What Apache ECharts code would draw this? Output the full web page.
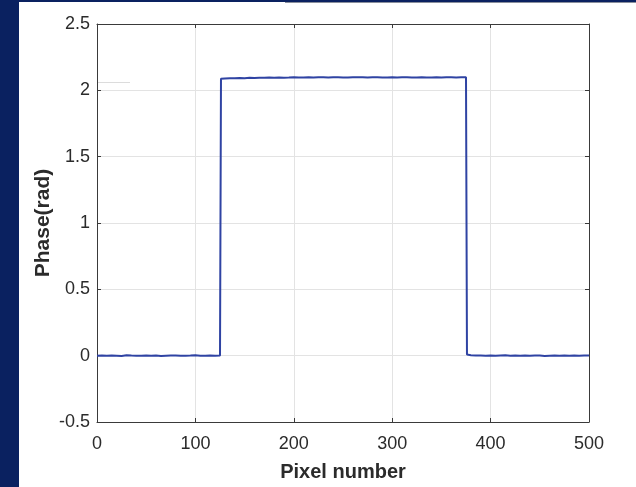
<!DOCTYPE html>
<html>
<head>
<meta charset="utf-8">
<script src="https://cdn.jsdelivr.net/npm/echarts@6/dist/echarts.min.js"></script>
<style>
  html, body { margin: 0; padding: 0; background: #fff; }
  #chart { width: 636px; height: 487px; }
</style>
</head>
<body>
<div id="chart"></div>
<script>
// sampled phase profile (pixel index / phase in rad)
var lowLeftX = [0,5,10,15,20,25,30,35,40,45,50,55,60,65,70,75,80,85,90,95,100,105,110,115,120,125];
var lowLeftY = [0.000,0.002,-0.001,0.001,0.000,-0.002,0.003,0.001,0.000,-0.001,0.002,0.000,0.001,-0.002,0.000,0.002,0.001,-0.001,0.000,0.001,0.003,0.000,-0.001,0.001,0.000,0.002];

var highX = [126,130,135,140,145,150,155,160,165,170,175,180,185,190,195,200,205,210,215,220,225,230,235,240,245,250,255,260,265,270,275,280,285,290,295,300,305,310,315,320,325,330,335,340,345,350,355,360,365,370,375];
var highY = [2.088,2.090,2.092,2.091,2.093,2.092,2.094,2.093,2.095,2.094,2.096,2.095,2.097,2.095,2.096,2.098,2.097,2.096,2.098,2.097,2.099,2.098,2.097,2.099,2.098,2.097,2.096,2.098,2.099,2.098,2.097,2.099,2.098,2.097,2.096,2.098,2.097,2.099,2.098,2.097,2.096,2.098,2.097,2.096,2.098,2.097,2.099,2.098,2.097,2.098,2.099];

var lowRightX = [376,380,385,390,395,400,405,410,415,420,425,430,435,440,445,450,455,460,465,470,475,480,485,490,495,500];
var lowRightY = [0.008,0.004,0.002,0.001,0.000,0.002,-0.001,0.001,0.003,0.000,0.001,-0.001,0.002,0.000,0.001,0.002,-0.002,0.000,0.001,0.000,0.002,-0.001,0.001,0.000,0.002,0.001];

var xTicks = [0, 100, 200, 300, 400, 500];
var yTicks = [-0.5, 0, 0.5, 1, 1.5, 2, 2.5];

var pixel = lowLeftX.concat(highX, lowRightX);
var phase = lowLeftY.concat(highY, lowRightY);

var myChart = echarts.init(document.getElementById('chart'));

var points = [];
for (var i = 0; i < pixel.length; i++) {
    points.push([pixel[i], phase[i]]);
}

var font = 'Liberation Sans, Arial, sans-serif';
var navy = '#0a2160';
var boxColor = '#3a3a3a';
var textColor = '#2b2b2b';

// top / right box edges with inward ticks, like a matlab axes box
function frameAxis(pos, ticks, step) {
    return {
        type: 'value',
        position: pos,
        min: ticks[0],
        max: ticks[ticks.length - 1],
        interval: step,
        axisLine: { show: true, onZero: false, lineStyle: { color: boxColor } },
        axisTick: { show: true, inside: true, length: 4, lineStyle: { color: boxColor } },
        axisLabel: { show: false },
        splitLine: { show: false }
    };
}

myChart.setOption({
    backgroundColor: '#fff',
    animation: false,
    graphic: [
        { type: 'rect', shape: { x: 0, y: 0, width: 19, height: 487 }, style: { fill: navy } },
        { type: 'rect', shape: { x: 0, y: 0, width: 636, height: 2 }, style: { fill: navy } },
        { type: 'line', shape: { x1: 285, y1: 2.5, x2: 636, y2: 2.5 }, style: { stroke: '#8a8f9c', lineWidth: 1 } },
        { type: 'line', shape: { x1: 98, y1: 82.5, x2: 130, y2: 82.5 }, style: { stroke: '#dcdcdc', lineWidth: 1 } }
    ],
    grid: {
        left: 97,
        right: 47,
        top: 24,
        bottom: 65
    },
    xAxis: [{
        type: 'value',
        position: 'bottom',
        min: xTicks[0],
        max: xTicks[xTicks.length - 1],
        interval: 100,
        name: 'Pixel number',
        nameLocation: 'middle',
        nameGap: 40,
        nameMoveOverlap: false,
        nameTextStyle: { fontFamily: font, fontSize: 20, fontWeight: 'bold', color: textColor },
        axisLine: { show: true, onZero: false, lineStyle: { color: boxColor } },
        axisTick: { show: true, inside: true, length: 4, lineStyle: { color: boxColor } },
        axisLabel: { fontFamily: font, fontSize: 18, color: textColor, margin: 13 },
        splitLine: { show: true, lineStyle: { color: '#e3e3e3', width: 1 } }
    }, frameAxis('top', xTicks, 100)],
    yAxis: [{
        type: 'value',
        position: 'left',
        min: yTicks[0],
        max: yTicks[yTicks.length - 1],
        interval: 0.5,
        name: 'Phase(rad)',
        nameLocation: 'middle',
        nameGap: 43,
        nameMoveOverlap: false,
        nameTextStyle: { fontFamily: font, fontSize: 21, fontWeight: 'bold', color: textColor },
        axisLine: { show: true, onZero: false, lineStyle: { color: boxColor } },
        axisTick: { show: true, inside: true, length: 4, lineStyle: { color: boxColor } },
        axisLabel: { fontFamily: font, fontSize: 18, color: textColor, margin: 7 },
        splitLine: { show: true, lineStyle: { color: '#e3e3e3', width: 1 } }
    }, frameAxis('right', yTicks, 0.5)],
    series: [{
        type: 'line',
        data: points,
        showSymbol: false,
        lineStyle: { color: '#2f43a3', width: 2 },
        z: 3
    }]
});
</script>
</body>
</html>
